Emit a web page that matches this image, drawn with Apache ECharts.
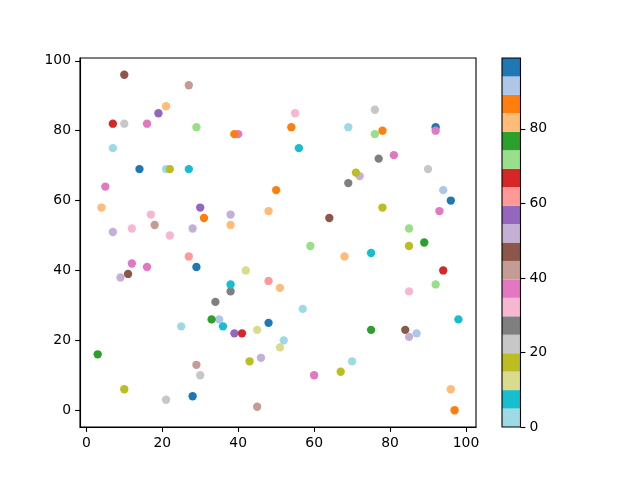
<!DOCTYPE html>
<html><head><meta charset="utf-8">
<script src="https://cdn.jsdelivr.net/npm/echarts@6/dist/echarts.min.js"></script>
<style>html,body{margin:0;padding:0;background:#fff}#c{width:640px;height:480px}</style>
</head><body><div id="c"></div>
<script>
// scatter point data (x, y, colour value) in drawing order
const xs = [10,27,21,19,7,10,16,29,40,39,7,14,21,22,27,55,76,54,69,76,78,92,92,56,77,81,90,72,71,5,50,4,30,17,38,48,31,38,7,12,18,22,28,27,29,12,16,9,11,42,48,51,38,38,34,69,94,96,93,78,64,85,59,89,85,68,75,94,92,85,35,33,36,25,39,41,45,48,52,51,3,46,43,29,30,10,21,28,45,57,98,75,84,87,85,70,60,67,96,97];
const ys = [96,93,87,85,82,82,82,81,79,79,75,69,69,69,69,85,86,81,81,79,80,81,80,75,72,73,69,67,68,64,63,58,58,56,56,57,55,53,51,52,53,50,52,44,41,42,41,38,39,40,37,35,34,36,31,65,63,60,57,58,55,52,47,48,47,44,45,40,36,34,26,26,24,24,22,22,23,25,20,18,16,15,14,13,10,6,3,4,1,29,26,23,23,22,21,14,10,11,6,0];
const cs = [47,42,82,57,67,22,37,72,37,87,2,97,2,17,7,32,22,87,2,72,87,97,37,7,27,37,22,52,17,37,87,82,57,32,52,82,87,82,52,32,42,32,52,62,97,37,37,52,47,12,62,82,27,7,27,27,92,97,37,17,47,72,72,77,17,82,7,67,72,32,92,77,7,2,57,67,12,97,2,12,77,52,17,42,22,17,22,97,42,2,7,77,47,92,52,2,37,17,82,87];
// colour map (tab20 reversed), value range and tick labels
const cmapColors = ['#9edae5','#17becf','#dbdb8d','#bcbd22','#c7c7c7','#7f7f7f','#f7b6d2','#e377c2','#c49c94','#8c564b','#c5b0d5','#9467bd','#ff9896','#d62728','#98df8a','#2ca02c','#ffbb78','#ff7f0e','#aec7e8','#1f77b4'];
const cMin = 0, cMax = 99;
const xTicks = [0,20,40,60,80,100];
const yTicks = [0,20,40,60,80,100];
const cbTicks = [0,20,40,60,80];

const step = (cMax - cMin) / cmapColors.length;
const pieces = cmapColors.map((col, i) => ({gte: cMin + i*step, lt: cMin + (i+1)*step, color: col}));
pieces[pieces.length-1].lte = cMax; delete pieces[pieces.length-1].lt;

const font = {color:'#000', fontSize:13.9, fontFamily:'DejaVu Sans'};
const points = xs.map((x,i)=>[x, ys[i], cs[i]]);

const cbSeries = cmapColors.map((col,i)=>({
  type:'bar', xAxisIndex:1, yAxisIndex:1, stack:'cb', data:[step],
  barWidth:'100%', itemStyle:{color:col}, silent:true, animation:false
}));

const chart = echarts.init(document.getElementById('c'), null, {renderer:'canvas'});
chart.setOption({
  animation:false,
  backgroundColor:'#fff',
  grid:[
    {left:80, top:58, width:396, height:369, show:true, borderColor:'#000', borderWidth:1.1, backgroundColor:'transparent'},
    {left:502, top:58, width:18.5, height:369, show:true, borderColor:'#000', borderWidth:1.1, backgroundColor:'transparent', z:5}
  ],
  xAxis:[
    {type:'value', gridIndex:0, min:-1.66, max:102.63,
     axisLine:{show:true, onZero:false, lineStyle:{color:'#000', width:1.1}},
     axisTick:{show:true, customValues:xTicks, length:4.9, lineStyle:{color:'#000', width:1.1}},
     axisLabel:Object.assign({customValues:xTicks, margin:9}, font),
     splitLine:{show:false}},
    {type:'category', gridIndex:1, data:['cb'], show:false, boundaryGap:true}
  ],
  yAxis:[
    {type:'value', gridIndex:0, min:-4.8, max:100.8,
     axisLine:{show:true, onZero:false, lineStyle:{color:'#000', width:1.1}},
     axisTick:{show:true, customValues:yTicks, length:4.9, lineStyle:{color:'#000', width:1.1}},
     axisLabel:Object.assign({customValues:yTicks, margin:9}, font),
     splitLine:{show:false}},
    {type:'value', gridIndex:1, min:cMin, max:cMax, position:'right',
     axisLine:{show:false},
     axisTick:{show:true, customValues:cbTicks, length:4.9, lineStyle:{color:'#000', width:1.1}},
     axisLabel:Object.assign({customValues:cbTicks, margin:9}, font),
     splitLine:{show:false}}
  ],
  visualMap:{type:'piecewise', show:false, dimension:2, seriesIndex:0, pieces:pieces},
  series:[{type:'scatter', xAxisIndex:0, yAxisIndex:0, data:points, symbolSize:8.33, itemStyle:{opacity:1}, silent:true}].concat(cbSeries)
});
</script></body></html>
